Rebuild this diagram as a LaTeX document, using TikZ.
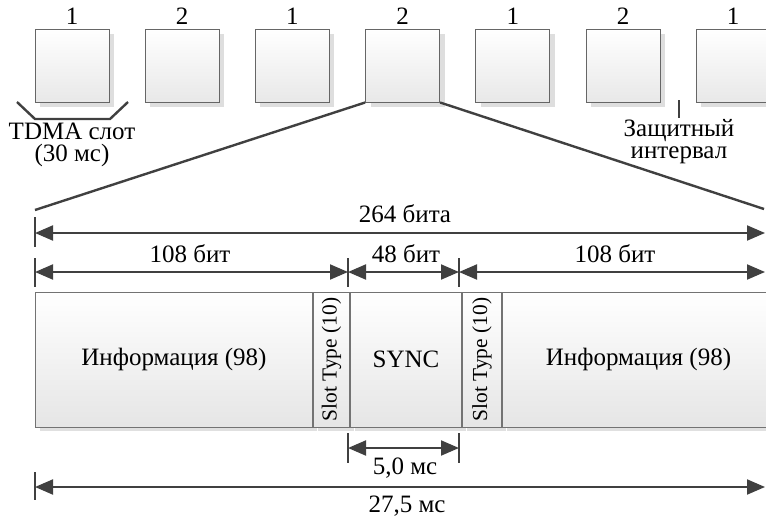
\documentclass[tikz,border=0pt]{standalone}
\usepackage{fontspec}
\setmainfont{Liberation Serif}
\usetikzlibrary{arrows.meta,shadows}

\begin{document}
\begin{tikzpicture}[x=0.5pt, y=-0.5pt,
    txt/.style={font=\fontsize{12.5pt}{11pt}\selectfont, align=center, inner sep=0pt},
    slot/.style={draw=black!60, line width=0.5pt, top color=white, bottom color=black!9, minimum width=37pt, minimum height=36.5pt, inner sep=0pt,
      drop shadow={shadow xshift=2.5pt, shadow yshift=-2.5pt, fill=black!13, opacity=1}},
    field/.style={draw=black!55, line width=0.5pt, top color=white, bottom color=black!10, minimum height=67.5pt, inner sep=0pt, anchor=west,
      font=\fontsize{12.5pt}{15pt}\selectfont,
      drop shadow={shadow xshift=2pt, shadow yshift=-2pt, fill=black!12, opacity=1}},
    stype/.style={label={[rotate=90, font=\fontsize{10.7pt}{12pt}\selectfont]center:Slot Type (10)}},
    dim/.style={{Triangle[length=9pt,width=7.5pt]}-{Triangle[length=9pt,width=7.5pt]}, line width=1pt, draw=black!75},
    tick/.style={line width=1pt, draw=black!75},
    zoomline/.style={line width=1.2pt, draw=black!75}
    ]
    \clip (0,0) rectangle (766,520);

    \foreach \i/\n in {1/1,2/2,3/1,4/2,5/1,6/2,7/1}
      \node[slot, label={[txt, inner sep=2pt]above:\n}] (s\i) at ({72+110.2*(\i-1)},65.5) {};

    \draw[zoomline] (17,102) -- (35,119) -- (110,119) -- (128,102);
    \node[txt] (tdma) at (72,145) {TDMA слот\\(30 мс)};
    \coordinate (gtop) at (679,100);
    \coordinate (gbot) at (679,118);
    \draw[zoomline] (gtop) -- (gbot);
    \node[txt, anchor=north] (guard) at (679,119) {Защитный\\интервал};

    \coordinate (zl) at (35,210);
    \coordinate (zr) at (764,209);
    \draw[zoomline] (s4.south west) -- (zl);
    \draw[zoomline] (s4.south east) -- (zr);

    \node[field, minimum width=138.5pt] (info1) at (35,359.5) {Информация (98)};
    \node[field, minimum width=18pt, stype] (st1) at (info1.east) {};
    \node[field, minimum width=55.5pt] (sync) at (st1.east) {SYNC};
    \node[field, minimum width=19.5pt, stype] (st2) at (sync.east) {};
    \node[field, minimum width=136pt] (info2) at (st2.east) {Информация (98)};

    \coordinate (a0) at (35,233);
    \coordinate (a1) at (765,233);
    \coordinate (b0) at (35,272);
    \coordinate (b1) at (348,272);
    \coordinate (b2) at (459,272);
    \coordinate (b3) at (765,272);
    \coordinate (c1) at (348,448);
    \coordinate (c2) at (459,448);
    \coordinate (d0) at (35,487);
    \coordinate (d1) at (765,487);

    \draw[tick] (35,217) -- (35,247);
    \draw[tick] (35,258) -- (35,287);
    \draw[tick] (348,258) -- (348,287);
    \draw[tick] (459,258) -- (459,287);
    \draw[tick] (348,433) -- (348,463);
    \draw[tick] (459,433) -- (459,463);
    \draw[tick] (35,472) -- (35,500);

    \draw[dim] (a0) -- (a1);
    \draw[dim] (b0) -- (b1);
    \draw[dim] (b1) -- (b2);
    \draw[dim] (b2) -- (b3);
    \draw[dim] (c1) -- (c2);
    \draw[dim] (d0) -- (d1);

    \node[txt] (l264) at (405,214) {264 бита};
    \node[txt] (l108a) at (190,254) {108 бит};
    \node[txt] (l48) at (406,254) {48 бит};
    \node[txt] (l108b) at (615,254) {108 бит};
    \node[txt] (l5) at (405,468) {5,0 мс};
    \node[txt] (l275) at (407,506) {27,5 мс};
  \end{tikzpicture}
\end{document}
